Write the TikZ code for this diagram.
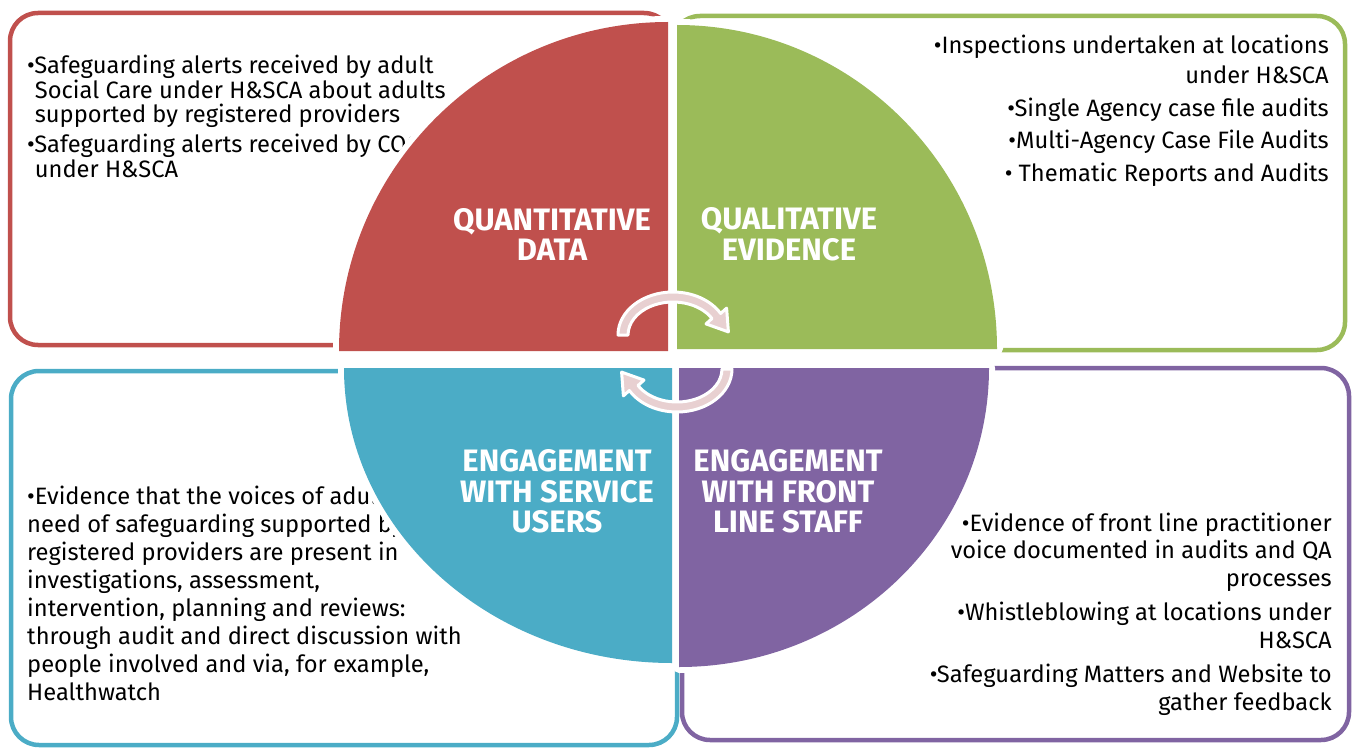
\documentclass[tikz,border=0pt]{standalone}
\usepackage{fontspec}
\setmainfont{Fira Sans}
\definecolor{qred}{HTML}{C0504D}
\definecolor{qgreen}{HTML}{9BBB59}
\definecolor{qblue}{HTML}{4BACC6}
\definecolor{qpurple}{HTML}{8064A2}
\definecolor{arrowpink}{HTML}{E8D0D1}
\begin{document}
\begin{tikzpicture}[x=1pt,y=1pt,
  boxsty/.style={line width=4.5pt, rounded corners=28pt},
  quad/.style={preaction={draw=white, line width=12pt, line join=round}},
  body/.style={font=\fontsize{23.7}{24.5}\selectfont, inner sep=0pt, text=black},
  title/.style={font=\fontsize{31}{30.5}\selectfont\bfseries, text=white, align=center, inner sep=0pt},
  arrowsty/.style={fill=arrowpink, draw=white, line width=3pt, line join=round}]
\useasboundingbox (0,0) rectangle (1357,-749);
% outer boxes
\draw[boxsty, draw=qred] (10,-13) rectangle (672,-345);
\draw[boxsty, draw=qgreen] (672,-16) rectangle (1345,-350);
\draw[boxsty, draw=qblue] (11,-371) rectangle (677,-745);
\draw[boxsty, draw=qpurple] (682,-368) rectangle (1349,-740);
% texts (anchored at the baseline of their last line)
\node[body, anchor=base west, align=left] (qtxt) at (27,-177)
 {•Safeguarding alerts received by adult\\\hphantom{•}Social Care under H\&SCA about adults\\\hphantom{•}supported by registered providers\\[5.5pt]•Safeguarding alerts received by CQC\\\hphantom{•}under H\&SCA};
\node[body, anchor=base east, align=right, font=\fontsize{23.7}{29}\selectfont] (gtxt) at (1329,-182)
 {•Inspections undertaken at locations\\under H\&SCA\\[4pt]•Single Agency case file audits\\[4pt]•Multi-Agency Case File Audits\\[4pt]• Thematic Reports and Audits};
\node[body, anchor=base west, align=left, font=\fontsize{23.7}{27.9}\selectfont] (btxt) at (27,-700)
 {•Evidence that the voices of adults in\\need of safeguarding supported by\\registered providers are present in\\investigations, assessment,\\intervention, planning and reviews:\\through audit and direct discussion with\\people involved and via, for example,\\Healthwatch};
\node[body, anchor=base east, align=right, font=\fontsize{23.7}{27.5}\selectfont] (ptxt) at (1332,-710)
 {•Evidence of front line practitioner\\voice documented in audits and QA\\processes\\[7pt]•Whistleblowing at locations under\\H\&SCA\\[7pt]•Safeguarding Matters and Website to\\gather feedback};
% quadrants
\path[quad, fill=qred] (668,-351) -- ++(-329,0) arc[start angle=180, end angle=90, x radius=329, y radius=329] -- cycle;
\path[quad, fill=qgreen] (677,-349) -- ++(320,0) arc[start angle=0, end angle=90, x radius=320, y radius=324] -- cycle;
\path[quad, fill=qblue] (672,-368) -- ++(-328,0) arc[start angle=180, end angle=270, x radius=328, y radius=295] -- cycle;
\path[quad, fill=qpurple] (679,-368) -- ++(310,0) arc[start angle=0, end angle=-90, x radius=310, y radius=299] -- cycle;
% titles
\node[title] (t1) at (552,-234.5) {QUANTITATIVE\\DATA};
\node[title] (t2) at (789,-234.5) {QUALITATIVE\\EVIDENCE};
\node[title] (t3) at (557,-491.5) {ENGAGEMENT\\WITH SERVICE\\USERS};
\node[title] (t4) at (788,-491.5) {ENGAGEMENT\\WITH FRONT\\LINE STAFF};
% circular arrows
\path[arrowsty] (618,-335) arc[start angle=180, end angle=30, x radius=55, y radius=43]
  -- (726.6,-308.1) -- (728.4,-331.9) -- (706.0,-323.9) -- (712.0,-318.5)
  arc[start angle=30, end angle=180, x radius=45, y radius=33] -- cycle;
\begin{scope}[rotate around={180:(675,-352)}]
\path[arrowsty] (618,-335) arc[start angle=180, end angle=30, x radius=55, y radius=43]
  -- (726.6,-308.1) -- (728.4,-331.9) -- (706.0,-323.9) -- (712.0,-318.5)
  arc[start angle=30, end angle=180, x radius=45, y radius=33] -- cycle;
\end{scope}
\end{tikzpicture}
\end{document}
